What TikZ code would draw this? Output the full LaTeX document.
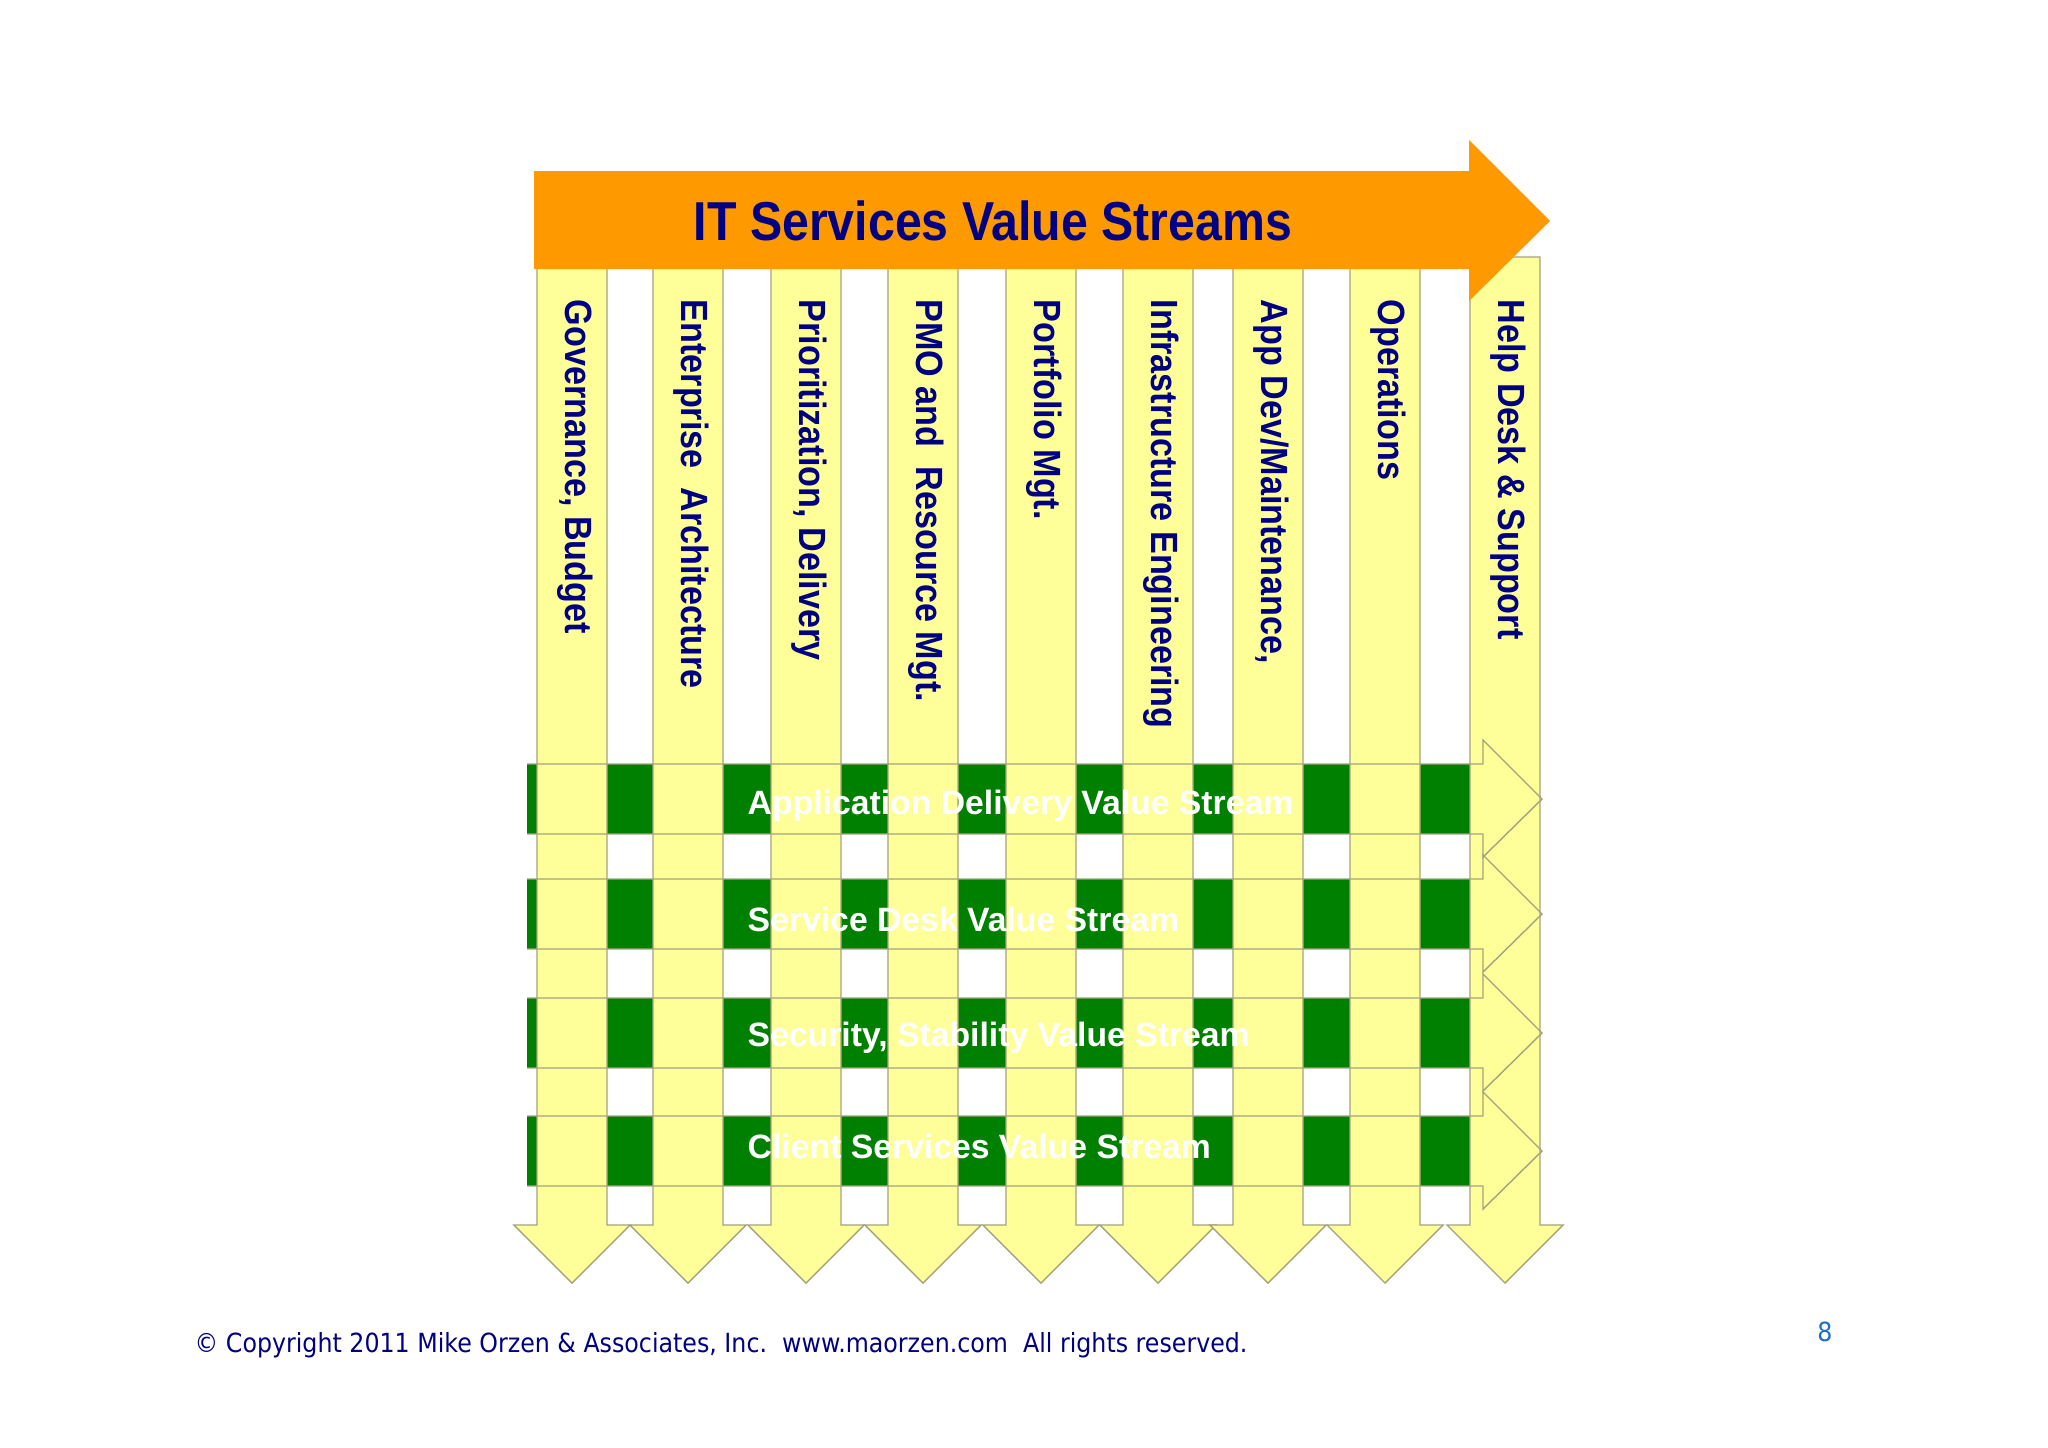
\documentclass[tikz,border=0pt]{standalone}
\usepackage{fontspec}
\setmainfont{Liberation Sans}[FakeStretch=0.9]
\newfontfamily\titlefont{Liberation Sans}[FakeStretch=0.88]
\newfontfamily\bandfont{Liberation Sans}
\newfontfamily\copyfont{DejaVu Sans}[FakeStretch=0.9]
\definecolor{streamyellow}{HTML}{FFFF99}
\definecolor{bandgreen}{HTML}{008000}
\definecolor{titleorange}{HTML}{FF9900}
\definecolor{navy}{HTML}{000080}
\definecolor{edgegrey}{HTML}{A3A37E}
\definecolor{pageblue}{HTML}{1B6EC2}
\tikzset{
    stream/.style={fill=streamyellow, draw=edgegrey, line width=0.4pt},
    bandedge/.style={draw=edgegrey, line width=0.4pt},
    collabel/.style={rotate=-90, anchor=west, inner sep=0pt, text=navy, font=\fontsize{10.8}{12}\selectfont\bfseries},
    bandlabel/.style={anchor=base west, inner sep=0pt, text=white, font=\bandfont\fontsize{9.6}{11}\selectfont\bfseries},
    titlelabel/.style={inner sep=0pt, text=navy, font=\titlefont\fontsize{15.6}{18}\selectfont\bfseries},
    footer/.style={inner sep=0pt, font=\copyfont\fontsize{7.5}{9}\selectfont}
}

\begin{document}
\begin{tikzpicture}[x=0.1mm, y=-0.1mm]
    \useasboundingbox (0,0) rectangle (2048,1447);
    % Value stream bands, green shafts
    \foreach \ya/\yb in {764/834, 879/949, 998/1068, 1116/1186}
        \fill[bandgreen] (527,\ya) rectangle (1483,\yb);
    % Function columns
    \foreach \xa/\yt in {537/250, 653/250, 771/250, 888/250, 1006/250, 1123/250, 1233/250, 1350/250, 1470/257}
        \draw[stream] (\xa,\yt) -- ({\xa+70},\yt) -- ({\xa+70},1225) -- ({\xa+93},1225)
            -- ({\xa+35},1283) -- ({\xa-23},1225) -- (\xa,1225) -- cycle;
    % Band outlines over the columns
    \foreach \ya/\yb in {764/834, 879/949, 998/1068, 1116/1186}
        \draw[bandedge] (527,\ya) -- (1483,\ya) -- (1483,{\ya-24}) -- (1542,{(\ya+\yb)/2})
            -- (1483,{\yb+23}) -- (1483,\yb) -- (527,\yb);
    % Title arrow
    \fill[titleorange] (534,171) -- (1469,171) -- (1469,140) -- (1550,221) -- (1469,301) -- (1469,269) -- (534,269) -- cycle;
    \node[titlelabel] (title) at (993,221) {IT Services Value Streams};
    % Column labels
    \foreach \xc/\txt [count=\i] in {575/{Governance, Budget}, 691/{Enterprise\ \ Architecture},
        809/{Prioritization, Delivery}, 926/{PMO and\ \ Resource Mgt.}, 1044/{Portfolio Mgt.},
        1161/{Infrastructure Engineering}, 1271/{App Dev/Maintenance,}, 1388/{Operations},
        1508/{Help Desk \& Support}}
        \node[collabel] (col\i) at (\xc,299) {\txt};
    % Band labels
    \foreach \yc/\txt [count=\i] in {814/{Application Delivery Value Stream}, 931/{Service Desk Value Stream},
        1046/{Security, Stability Value Stream}, 1158/{Client Services Value Stream}}
        \node[bandlabel] (band\i) at (747,\yc) {\txt};
    % Footer
    \node[footer, anchor=west, text=navy] (copyright) at (194,1345) {© Copyright 2011 Mike Orzen \& Associates, Inc.\ \ www.maorzen.com\ \ All rights reserved.};
    \node[footer, text=pageblue] (pagenum) at (1825,1332) {8};
\end{tikzpicture}
\end{document}
